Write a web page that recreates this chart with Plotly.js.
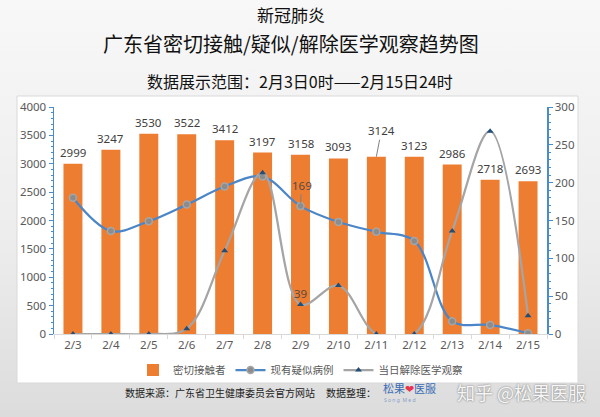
<!DOCTYPE html>
<html>
<head>
<meta charset="utf-8">
<script src="https://cdn.plot.ly/plotly-3.0.1.min.js"></script>
<style>
html,body{margin:0;padding:0;}
body{width:600px;height:417px;background:linear-gradient(to bottom,#f8f8f8 0%,#ececec 60%,#dcdcdc 100%);}
#chart{width:600px;height:417px;}
</style>
</head>
<body>
<div id="chart"></div>
<script>
// ---- data ----
const dates = ["2/3","2/4","2/5","2/6","2/7","2/8","2/9","2/10","2/11","2/12","2/13","2/14","2/15"];
const closeContacts = [2999,3247,3530,3522,3412,3197,3158,3093,3124,3123,2986,2718,2693];
const suspected = [180,136,149,171,195,208,169,148,135,123,17,12,1];
const released = [0,0,0,7,110,213,39,64,0,0,136,268,24];

const seriesNames = ["密切接触者","现有疑似病例","当日解除医学观察"];

const FONT = "Noto Sans, Noto Sans CJK SC, sans-serif";
const CJK = "Noto Sans CJK SC, sans-serif";
const axisBlue = "#4a8ccb";
const textGray = "#595959";

// px -> paper helpers (plot area: x 54..547, y 107..334)
const L=54, R=53, T=107, B=83, W=600, H=417;
const pw = W-L-R, ph = H-T-B;
const px = x => (x-L)/pw;
const py = y => (H-B-y)/ph;

const traces = [
  {type:"bar", x:dates, y:closeContacts, name:seriesNames[0],
   marker:{color:"#ed7d31"}, hoverinfo:"x+y"},
  {type:"scatter", mode:"lines+markers", x:dates, y:suspected, yaxis:"y2", name:seriesNames[1],
   line:{color:"#4a86c8", width:2.25, shape:"spline", smoothing:1},
   marker:{symbol:"circle", size:7, color:"#8c8c8c", line:{color:"#a6a6a6", width:1.5}}},
  {type:"scatter", mode:"lines+markers", x:dates, y:released, yaxis:"y2", name:seriesNames[2],
   line:{color:"#a5a5a5", width:2.25, shape:"spline", smoothing:1},
   marker:{symbol:"triangle-up", size:6, color:"#1f4e79"}}
];

const annotations = [];
// bar labels
closeContacts.forEach((v,i)=>{
  if (i === 8) {
    annotations.push({x:dates[i], y:v, xref:"x", yref:"y", text:String(v),
      showarrow:true, arrowhead:0, arrowwidth:1, arrowcolor:"#808080", standoff:0,
      ax:5, ay:-26, font:{family:FONT, size:11.5, color:"#404040"}});
  } else {
    annotations.push({x:dates[i], y:v, xref:"x", yref:"y", text:String(v),
      showarrow:false, yanchor:"bottom", yshift:2, font:{family:FONT, size:11.5, color:"#404040"}});
  }
});
// line labels at 2/9
annotations.push({x:dates[6], y:suspected[6], xref:"x", yref:"y2", text:String(suspected[6]),
  showarrow:true, arrowhead:0, arrowwidth:1, arrowcolor:"#808080", standoff:3,
  ax:1, ay:-21, font:{family:FONT, size:11.5, color:"#5a4a40"}});
annotations.push({x:dates[6], y:released[6], xref:"x", yref:"y2", text:String(released[6]),
  showarrow:false, yanchor:"middle", yshift:11, font:{family:FONT, size:11.5, color:"#5a4a40"}});

// titles
annotations.push({xref:"paper", yref:"paper", x:px(291), y:py(15), text:"新冠肺炎",
  showarrow:false, xanchor:"center", yanchor:"middle", font:{family:CJK, size:17, color:"#111"}});
annotations.push({xref:"paper", yref:"paper", x:px(291), y:py(43), text:"广东省密切接触/疑似/解除医学观察趋势图",
  showarrow:false, xanchor:"center", yanchor:"middle", font:{family:CJK, size:20, color:"#111"}});
annotations.push({xref:"paper", yref:"paper", x:px(300), y:py(81), text:"数据展示范围：2月3日0时——2月15日24时",
  showarrow:false, xanchor:"center", yanchor:"middle", font:{family:CJK, size:16, color:"#111"}});

// footer
annotations.push({xref:"paper", yref:"paper", x:px(123), y:py(392), text:"数据来源：广东省卫生健康委员会官方网站",
  showarrow:false, xanchor:"left", yanchor:"middle", font:{family:CJK, size:10, color:"#222"}});
annotations.push({xref:"paper", yref:"paper", x:px(324), y:py(392), text:"数据整理：",
  showarrow:false, xanchor:"left", yanchor:"middle", font:{family:CJK, size:10, color:"#222"}});
annotations.push({xref:"paper", yref:"paper", x:px(381), y:py(388),
  text:"<span style='color:#3a6db5'>松果</span><span style='color:#e8344e'>❤</span><span style='color:#3a6db5'>医服</span>",
  showarrow:false, xanchor:"left", yanchor:"middle", font:{family:CJK, size:11, color:"#3a6db5"}});
annotations.push({xref:"paper", yref:"paper", x:px(382), y:py(400),
  text:"S o n g  M e d",
  showarrow:false, xanchor:"left", yanchor:"middle", font:{family:FONT, size:5, color:"#8aa0c8"}});
annotations.push({xref:"paper", yref:"paper", x:px(455), y:py(392), text:"知乎 @松果医服",
  showarrow:false, xanchor:"left", yanchor:"middle",
  font:{family:CJK, size:18, color:"#f6f6f6", shadow:"0px 0px 2px #666"}});

const layout = {
  width:W, height:H,
  margin:{l:L, r:R, t:T, b:B, pad:0},
  paper_bgcolor:"rgba(0,0,0,0)",
  plot_bgcolor:"rgba(0,0,0,0)",
  bargap:0.5,
  showlegend:true,
  legend:{orientation:"h", x:0.5, xanchor:"center", y:py(370), yanchor:"middle",
    font:{family:CJK, size:10.5, color:textGray}, bgcolor:"rgba(0,0,0,0)",
    itemwidth:30, tracegroupgap:0},
  xaxis:{type:"category", range:[-0.5,12.5], showgrid:false, zeroline:false,
    showline:true, linecolor:"#d9d9d9", linewidth:1,
    ticks:"outside", tickson:"boundaries", ticklen:4, tickcolor:"#d9d9d9",
    tickfont:{family:FONT, size:11.5, color:textGray}, fixedrange:true},
  yaxis:{range:[0,4000], dtick:500, showgrid:false, zeroline:false,
    showline:true, linecolor:axisBlue, linewidth:1.5,
    ticks:"outside", ticklen:4, tickcolor:axisBlue,
    minor:{dtick:100, ticks:"outside", ticklen:2, tickcolor:axisBlue, showgrid:false},
    tickfont:{family:FONT, size:11.5, color:textGray}},
  yaxis2:{range:[0,300], dtick:50, overlaying:"y", side:"right", showgrid:false, zeroline:false,
    showline:true, linecolor:axisBlue, linewidth:1.5,
    ticks:"outside", ticklen:4, tickcolor:axisBlue,
    minor:{dtick:10, ticks:"outside", ticklen:2, tickcolor:axisBlue, showgrid:false},
    tickfont:{family:FONT, size:11.5, color:textGray}},
  shapes:[{type:"rect", xref:"paper", yref:"paper", layer:"below",
    x0:px(17), x1:px(578), y0:py(383), y1:py(96),
    fillcolor:"#ffffff", line:{color:"#d9d9d9", width:1}}],
  annotations:annotations
};

Plotly.newPlot("chart", traces, layout, {displayModeBar:false, staticPlot:true});
</script>
</body>
</html>
